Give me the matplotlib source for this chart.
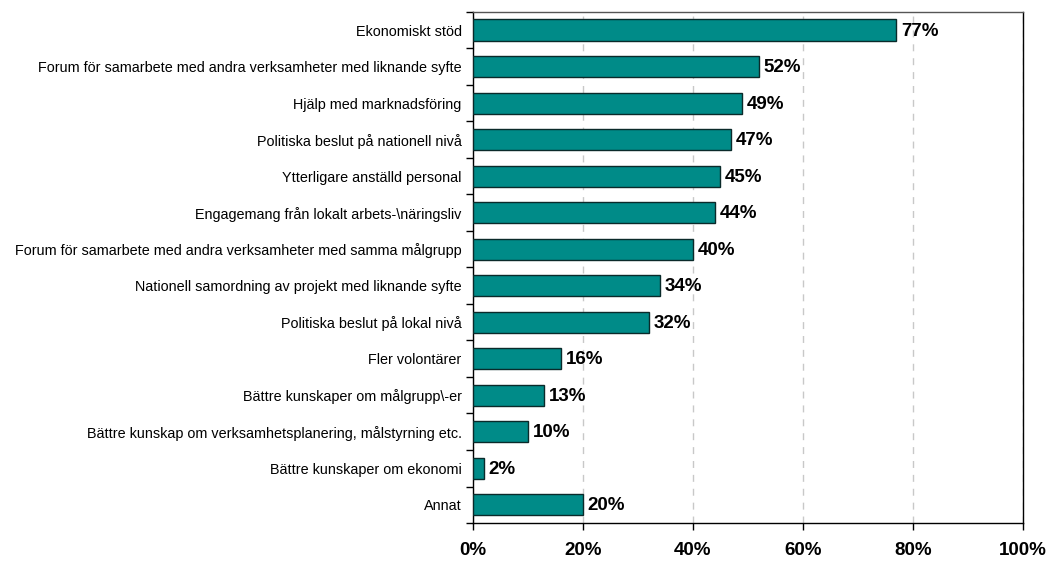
import matplotlib.pyplot as plt
import numpy as np

plt.rcParams["font.family"] = ["Liberation Sans", "DejaVu Sans"]

labels = [
    "Ekonomiskt stöd",
    "Forum för samarbete med andra verksamheter med liknande syfte",
    "Hjälp med marknadsföring",
    "Politiska beslut på nationell nivå",
    "Ytterligare anställd personal",
    "Engagemang från lokalt arbets-\\näringsliv",
    "Forum för samarbete med andra verksamheter med samma målgrupp",
    "Nationell samordning av projekt med liknande syfte",
    "Politiska beslut på lokal nivå",
    "Fler volontärer",
    "Bättre kunskaper om målgrupp\\-er",
    "Bättre kunskap om verksamhetsplanering, målstyrning etc.",
    "Bättre kunskaper om ekonomi",
    "Annat",
]
values = [77, 52, 49, 47, 45, 44, 40, 34, 32, 16, 13, 10, 2, 20]
xticks = [0, 20, 40, 60, 80, 100]

fig = plt.figure(figsize=(10.48, 5.63), dpi=100)
ax = fig.add_axes([0.451, 0.071, 0.525, 0.908])

y = np.arange(len(values))
ax.barh(y, values, height=0.58, color="#008B88", edgecolor="#0a2a2a",
        linewidth=1.0, zorder=3)

for yi, v in zip(y, values):
    ax.text(v + 0.9, yi + 0.03, f"{v}%", va="center", ha="left",
            fontsize=13.5, fontweight="bold", zorder=4)

ax.set_xlim(0, 100)
ax.set_ylim(len(values) - 0.5, -0.5)

ax.set_xticks(xticks)
ax.set_xticklabels([f"{t}%" for t in xticks], fontsize=13.5, fontweight="bold")
ax.tick_params(axis="x", direction="out", length=5, width=1, pad=9)

# category labels on major ticks, tick marks between categories
ax.set_yticks(y)
ax.set_yticklabels(labels, fontsize=10.4)
ax.tick_params(axis="y", which="major", length=0, pad=8)
ax.set_yticks(np.arange(-0.5, len(values), 1), minor=True)
ax.tick_params(axis="y", which="minor", direction="out", length=5, width=1)

ax.grid(axis="x", color="#c8c8c8", linestyle=(0, (5, 5)), linewidth=1, zorder=0)
ax.grid(axis="y", visible=False)

for side in ["left", "bottom", "right"]:
    ax.spines[side].set_color("black")
    ax.spines[side].set_linewidth(1)
ax.spines["top"].set_color("#555555")
ax.spines["top"].set_linewidth(1)

fig.savefig("out.png", dpi=100)
